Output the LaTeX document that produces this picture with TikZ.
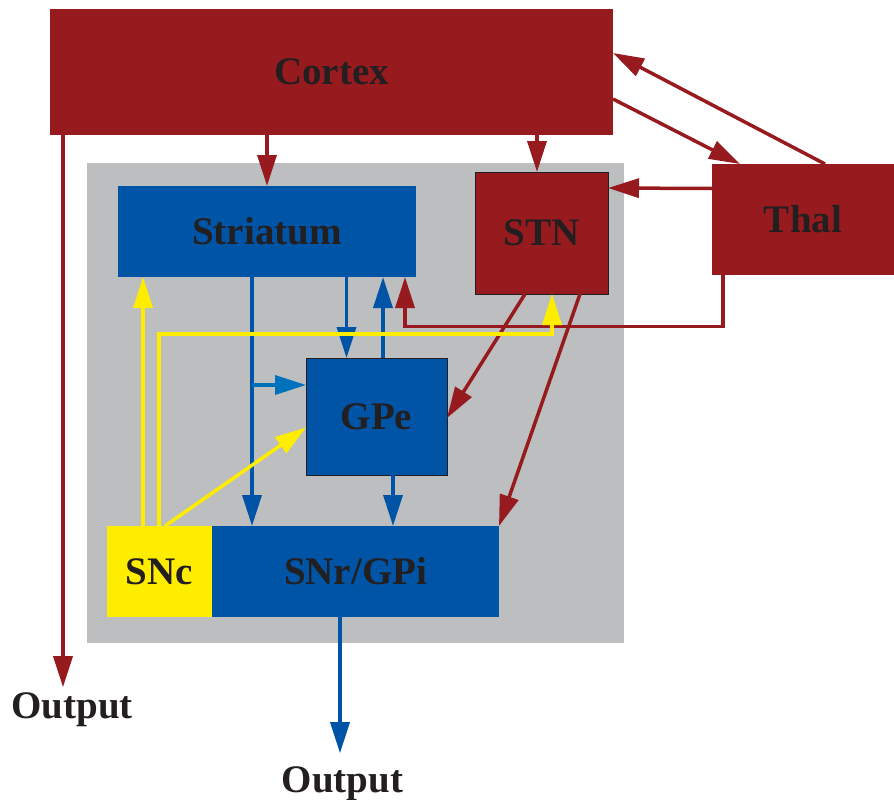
\documentclass[tikz,border=0pt]{standalone}
\usepackage{fontspec}
\setmainfont{Liberation Serif}
\usetikzlibrary{arrows.meta}

\definecolor{ctxred}{HTML}{971B1E}
\definecolor{bgblue}{HTML}{0054A6}
\definecolor{lightblue}{HTML}{0072BC}
\definecolor{dayellow}{HTML}{FFED00}
\definecolor{regiongray}{HTML}{BCBEC0}
\definecolor{labeltext}{HTML}{231F20}

\begin{document}
\begin{tikzpicture}[x=1pt, y=-1pt,
  area/.style={inner sep=0pt, outer sep=0pt, text=labeltext,
    font=\fontsize{39}{39}\selectfont\bfseries},
  redbox/.style={area, fill=ctxred},
  bluebox/.style={area, fill=bgblue},
  framed/.style={draw=labeltext, line width=1pt},
  conn/.style={-{Triangle[length=31pt,width=19pt]}, line width=3.5pt},
  redarrow/.style={conn, draw=ctxred},
  bluearrow/.style={conn, draw=bgblue},
  yellowarrow/.style={conn, draw=dayellow}]

\useasboundingbox (0,0) rectangle (894,800);

% grey region behind the basal ganglia
\fill[regiongray] (87,163) rectangle (624,643);

% boxes
\node[redbox, minimum width=563pt, minimum height=126pt] (cortex) at (331.5,72) {Cortex};
\node[redbox, minimum width=182pt, minimum height=111pt] (thal) at (803,219.5) {Thal};
\node[redbox, framed, minimum width=133pt, minimum height=122pt] (stn) at (541.5,233) {STN};
\node[bluebox, minimum width=298pt, minimum height=91pt] (striatum) at (267,231.5) {Striatum};
\node[bluebox, framed, minimum width=141pt, minimum height=117pt] (gpe) at (376.5,416.5) {GPe};
\node[bluebox, minimum width=287pt, minimum height=91pt] (snr) at (355.5,571.5) {SNr/GPi};
\node[area, fill=dayellow, minimum width=105pt, minimum height=91pt] (snc) at (159.5,571.5) {SNc};

% outputs
\node[area, anchor=base] (out1) at (72,718) {Output};
\node[area, anchor=base] (out2) at (342.5,792) {Output};

% cortex and thalamus
\draw[redarrow] (cortex.south -| striatum.north) -- (striatum.north);
\draw[redarrow] ([xshift=-4.5pt]stn.north |- cortex.south) -- ([xshift=-4.5pt]stn.north);
\draw[redarrow] ([yshift=-27pt]cortex.east) -- ([xshift=28pt]thal.north west);
\draw[redarrow] ([xshift=113pt]thal.north west) -- ([yshift=19pt]cortex.east);
\draw[redarrow] ([yshift=31pt]thal.west) -- ([yshift=45pt]stn.east);
\draw[redarrow] ([xshift=11pt]thal.south west) -- ++(0,51.5) -| ([xshift=-11pt]striatum.south east);
\draw[redarrow] ([xshift=13pt]cortex.south west) -- ([xshift=-9pt,yshift=5pt]out1.north);

% striatum and GPe
\coordinate (str1) at ([xshift=-15pt]striatum.south);
\draw[bluearrow] (str1) -- (str1 |- snr.north);
\draw[conn, draw=lightblue] ([yshift=31.5pt]gpe.west -| str1) -- ([yshift=31.5pt]gpe.west);
\draw[bluearrow] ([xshift=-30pt]gpe.north |- striatum.south) -- ([xshift=-30pt]gpe.north);
\draw[bluearrow] ([xshift=6.5pt]gpe.north) -- ([xshift=6.5pt]gpe.north |- striatum.south);
\draw[bluearrow] ([xshift=16.5pt]gpe.south) -- ([xshift=16.5pt]gpe.south |- snr.north);
\draw[bluearrow] ([xshift=-15.5pt]snr.south) -- ([xshift=-2.5pt,yshift=13pt]out2.north);

% STN
\draw[redarrow] ([xshift=-16.5pt]stn.south) -- ([yshift=-1.5pt]gpe.east);
\draw[redarrow] ([xshift=38.5pt]stn.south) -- (snr.north east);

% SNc dopamine
\draw[yellowarrow] ([xshift=-16.5pt]snc.north) -- ([xshift=-16.5pt]snc.north |- striatum.south);
\draw[yellowarrow] ([xshift=-0.5pt]snc.north) |- ([xshift=10.5pt,yshift=-40pt]stn.south) -- ([xshift=10.5pt]stn.south);
\draw[yellowarrow] ([xshift=5.5pt]snc.north) -- ([yshift=-11pt]gpe.west);

\end{tikzpicture}
\end{document}
